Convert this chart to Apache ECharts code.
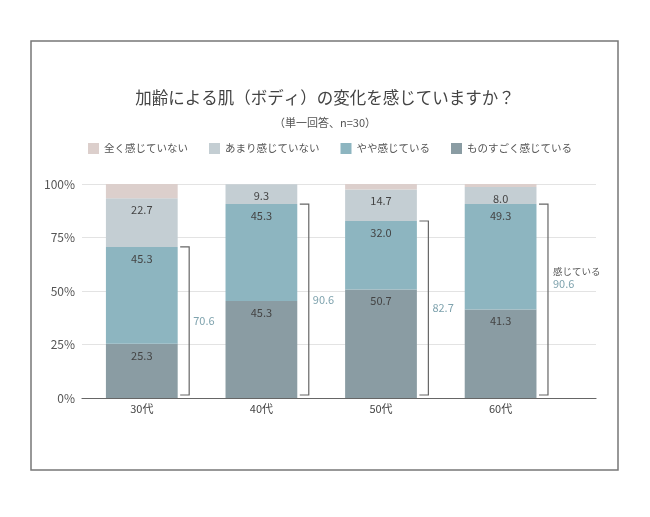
<!DOCTYPE html>
<html>
<head>
<meta charset="utf-8">
<script src="https://cdn.jsdelivr.net/npm/echarts@6/dist/echarts.min.js"></script>
<style>html,body{margin:0;padding:0;background:#fff;}#c{width:650px;height:517px;}</style>
</head>
<body>
<div id="c"></div>
<script>
const categories = ['30代', '40代', '50代', '60代'];
const seriesNames = ['全く感じていない', 'あまり感じていない', 'やや感じている', 'ものすごく感じている'];
const notAtAll = [6.7, 0, 2.6, 1.4];
const notMuch = [22.7, 9.3, 14.7, 8.0];
const somewhat = [45.3, 45.3, 32.0, 49.3];
const very = [25.3, 45.3, 50.7, 41.3];
const feelTotal = [70.6, 90.6, 82.7, 90.6];
const bracketCaption = ['', '', '', '感じている'];
const yTicks = [0, 25, 50, 75, 100];

const colors = {
  '全く感じていない': '#dccfcc',
  'あまり感じていない': '#c4ced3',
  'やや感じている': '#8db5c0',
  'ものすごく感じている': '#8a9ca3'
};
const FONT = '"Noto Sans CJK JP", "Noto Sans", sans-serif';

const chart = echarts.init(document.getElementById('c'), null, {renderer: 'canvas'});

function barSeries(name, data, showLabel) {
  return {
    name: name, type: 'bar', stack: 'total', xAxisIndex: 1, yAxisIndex: 1,
    barWidth: '60%', data: data,
    itemStyle: {color: colors[name]},
    label: {
      show: showLabel, position: 'insideTop', distance: 6,
      color: '#444', fontSize: 11, fontFamily: FONT,
      formatter: p => p.value > 0 ? p.value.toFixed(1) : ''
    }
  };
}

const option = {
  animation: false,
  backgroundColor: '#fff',
  title: [
    {text: '加齢による肌（ボディ）の変化を感じていますか？', left: 'center', top: 84,
     textStyle: {fontSize: 16.5, fontWeight: 'normal', color: '#444', fontFamily: FONT}},
    {text: '（単一回答、n=30）', left: 'center', top: 112,
     textStyle: {fontSize: 11, fontWeight: 'normal', color: '#555', fontFamily: FONT}}
  ],
  legend: {
    data: seriesNames, left: 88, top: 143, padding: 0, itemWidth: 11, itemHeight: 11, itemGap: 21,
    icon: 'rect', textStyle: {fontSize: 10.5, color: '#555', fontFamily: FONT}
  },
  grid: [
    {left: 82, right: 54, top: 184, bottom: 119},
    {left: 82, width: 478.4, top: 184, bottom: 119}
  ],
  xAxis: [
    {type: 'category', gridIndex: 0, data: categories, axisLabel: {show: false}, axisTick: {show: false},
     axisLine: {lineStyle: {color: '#666', width: 1.2}}},
    {type: 'category', gridIndex: 1, data: categories, axisTick: {show: false}, axisLine: {show: false},
     axisLabel: {fontSize: 11, color: '#444', margin: 5, fontFamily: FONT}}
  ],
  yAxis: [
    {type: 'value', gridIndex: 0, min: yTicks[0], max: yTicks[yTicks.length - 1], interval: 25,
     axisLabel: {formatter: '{value}%', fontSize: 12, color: '#555', margin: 7, fontFamily: FONT},
     axisLine: {show: false}, axisTick: {show: false},
     splitLine: {lineStyle: {color: '#e3e3e3', width: 1}}},
    {type: 'value', gridIndex: 1, min: 0, max: 100, show: false}
  ],
  series: [
    barSeries('ものすごく感じている', very, true),
    barSeries('やや感じている', somewhat, true),
    barSeries('あまり感じていない', notMuch, true),
    barSeries('全く感じていない', notAtAll, false),
    {
      type: 'custom', xAxisIndex: 1, yAxisIndex: 1, z: 5,
      data: categories.map((c, i) => [i, feelTotal[i], bracketCaption[i]]),
      renderItem: function (params, api) {
        const idx = api.value(0);
        const base = api.coord([idx, 0]);
        const top = api.coord([idx, api.value(1)]);
        const bw = api.size([1, 0])[0] * 0.6;
        const lx = base[0] + bw / 2 + 11.5;
        const yTop = top[1];
        const yBot = base[1] - 3;
        const cap = bracketCaption[idx];
        const children = [{
          type: 'polyline',
          shape: {points: [[lx - 9, yTop], [lx, yTop], [lx, yBot], [lx - 9, yBot]]},
          style: {stroke: '#666', lineWidth: 1.2, fill: null}
        }];
        if (cap) {
          const my = (yTop + yBot) / 2 - 28;
          children.push({type: 'text', style: {text: cap, x: lx + 5, y: my, fill: '#555', fontSize: 9.5, fontFamily: FONT, verticalAlign: 'middle'}});
          children.push({type: 'text', style: {text: api.value(1).toFixed(1), x: lx + 5, y: my + 12, fill: '#7fa3ae', fontSize: 11, fontFamily: FONT, verticalAlign: 'middle'}});
        } else {
          children.push({type: 'text', style: {text: api.value(1).toFixed(1), x: lx + 4, y: (yTop + yBot) / 2, fill: '#7fa3ae', fontSize: 11, fontFamily: FONT, verticalAlign: 'middle'}});
        }
        return {type: 'group', children: children};
      }
    }
  ],
  graphic: [{
    type: 'rect', shape: {x: 31, y: 41, width: 587, height: 429},
    style: {stroke: '#777', lineWidth: 1.5, fill: null}, z: -1
  }]
};
chart.setOption(option);
</script>
</body>
</html>
